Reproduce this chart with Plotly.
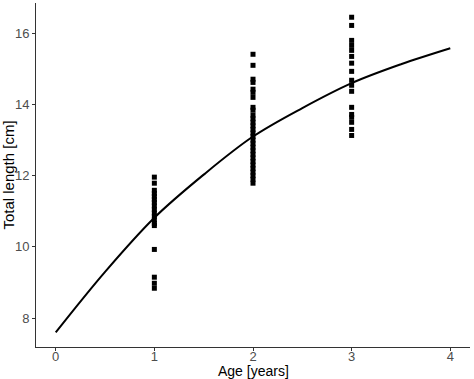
import plotly.graph_objects as go

# Observed total length by age
age1_len = [11.96, 11.79, 11.59, 11.5, 11.42, 11.33, 11.25, 11.15, 11.05, 10.95, 10.86, 10.76, 10.66, 10.6, 9.93, 9.15, 8.98, 8.84]
age2_len = [15.41, 15.1, 14.71, 14.62, 14.43, 14.34, 14.2, 13.92, 13.84, 13.7, 13.6, 13.5, 13.4, 13.3, 13.2, 13.1, 13.0, 12.9, 12.8,
            12.7, 12.6, 12.5, 12.4, 12.3, 12.2, 12.1, 12.0, 11.9, 11.79]
age3_len = [16.45, 16.22, 15.8, 15.66, 15.52, 15.35, 15.16, 14.93, 14.68, 14.54, 14.37, 13.92, 13.72, 13.64, 13.5, 13.3, 13.13]

# Fitted growth curve
curve_age = [0, 0.5, 1, 1.5, 2, 2.5, 3, 3.5, 4]
curve_len = [7.6, 9.3, 10.82, 12.03, 13.1, 13.9, 14.6, 15.13, 15.58]

x_ticks = [0, 1, 2, 3, 4]
y_ticks = [8, 10, 12, 14, 16]

pts_x = [1] * len(age1_len) + [2] * len(age2_len) + [3] * len(age3_len)
pts_y = age1_len + age2_len + age3_len

fig = go.Figure()
fig.add_trace(go.Scatter(x=pts_x, y=pts_y, mode="markers",
                         marker=dict(symbol="square", size=5, color="black", line=dict(width=0)),
                         showlegend=False))
fig.add_trace(go.Scatter(x=curve_age, y=curve_len, mode="lines", line=dict(color="black", width=2, shape="spline"),
                         showlegend=False))

axis_common = dict(showgrid=False, zeroline=False, showline=True, linecolor="#333333", linewidth=1,
                   ticks="outside", ticklen=3, tickcolor="#333333", automargin=False,
                   tickfont=dict(family="Liberation Sans, Arial", size=13, color="#4d4d4d"))
fig.update_xaxes(range=[-0.2, 4.2], tickvals=x_ticks, ticktext=[str(v) for v in x_ticks],
                 ticklabelstandoff=-6, **axis_common)
fig.update_yaxes(range=[7.19, 16.85], tickvals=y_ticks, ticktext=[str(v) for v in y_ticks],
                 title=dict(text="Total length [cm]", font=dict(family="Liberation Sans, Arial", size=15, color="black"), standoff=0),
                 **axis_common)
fig.add_annotation(text="Age [years]", xref="paper", yref="paper", x=0.5, y=0, xanchor="center", yanchor="top",
                   yshift=-15, borderpad=0, showarrow=False,
                   font=dict(family="Liberation Sans, Arial", size=14, color="black"))
fig.update_layout(width=474, height=379, margin=dict(l=36, r=4, t=3, b=32),
                  plot_bgcolor="white", paper_bgcolor="white")
fig.write_html("out.html", config={"displayModeBar": False},
               post_script="document.body.style.margin='0';document.body.style.overflow='hidden';")
